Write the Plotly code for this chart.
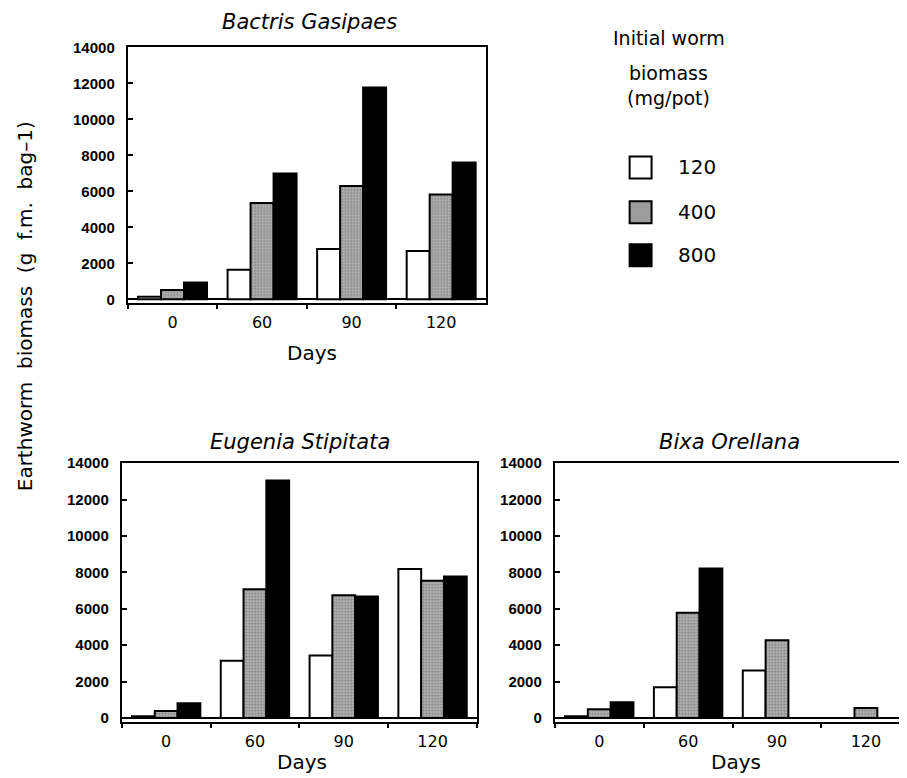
import plotly.graph_objects as go

# ---------------- data ----------------
days = ["0", "60", "90", "120"]
doses = ["120", "400", "800"]

bactris_120 = [150, 1650, 2800, 2680]
bactris_400 = [520, 5350, 6300, 5830]
bactris_800 = [930, 7000, 11780, 7600]

eugenia_120 = [100, 3140, 3430, 8180]
eugenia_400 = [390, 7080, 6750, 7540]
eugenia_800 = [810, 13050, 6680, 7780]

bixa_120 = [100, 1690, 2610, 0]
bixa_400 = [480, 5780, 4270, 550]
bixa_800 = [870, 8210, 0, 0]

panel_titles = ["Bactris Gasipaes", "Eugenia Stipitata", "Bixa Orellana"]
y_ticks = [0, 2000, 4000, 6000, 8000, 10000, 12000, 14000]
legend_lines = ["Initial worm", "biomass", "(mg/pot)"]
y_title = "Earthworm  biomass  (g  f.m.  bag\u20131)"
x_title = "Days"

# ---------------- layout helpers ----------------
W, H = 907, 778
OX = 8
OY, SY = 16.5, 0.984  # empirical page offset / scale in the viewer
def px(x):
    return (x - OX) / W
def py(y):
    return 1 - ((y - OY) / SY) / H

TITLE_FONT = dict(family="DejaVu Sans", size=21, color="black", style="italic")
XTICK_FONT = dict(family="DejaVu Sans", size=16, color="black")
YTICK_FONT = dict(family="Liberation Sans", size=15, color="black", weight="bold")
LABEL_FONT = dict(family="DejaVu Sans", size=20, color="black")

styles = [
    dict(color="white", line=dict(color="black", width=2)),
    dict(color="#a6a6a6", line=dict(color="black", width=2),
         pattern=dict(shape=".", fgcolor="#4a4a4a", bgcolor="#b4b4b4", size=3, solidity=0.4)),
    dict(color="black", line=dict(color="black", width=2)),
]

panels = [
    (bactris_120, bactris_400, bactris_800),
    (eugenia_120, eugenia_400, eugenia_800),
    (bixa_120, bixa_400, bixa_800),
]

fig = go.Figure()
for i, series in enumerate(panels):
    ax = "" if i == 0 else str(i + 1)
    for j, vals in enumerate(series):
        fig.add_trace(go.Bar(
            x=days, y=vals, name=doses[j], marker=styles[j],
            xaxis="x" + ax, yaxis="y" + ax, showlegend=False,
        ))

# panel domains (reference pixels)
doms = [
    dict(x=(128, 487), y=(47, 303), xr=[-0.5, 3.5]),
    dict(x=(122, 478), y=(463, 722), xr=[-0.5, 3.5]),
    dict(x=(556, 915), y=(463, 722), xr=[-0.5, 3.53]),
]

layout = dict(
    width=W, height=H,
    margin=dict(l=0, r=0, t=0, b=0),
    paper_bgcolor="white", plot_bgcolor="white",
    barmode="group", bargap=0.23, bargroupgap=0,
    showlegend=False,
)

for i, d in enumerate(doms):
    ax = "" if i == 0 else str(i + 1)
    layout["xaxis" + ax] = dict(
        domain=[px(d["x"][0]), min(1.0, px(d["x"][1]))],
        anchor="y" + ax, type="category", range=d["xr"],
        showline=True, linecolor="black", linewidth=2, mirror=True,
        ticks="outside", ticklen=4, tickwidth=2, tickcolor="black",
        tickson="boundaries", showgrid=False, zeroline=False,
        tickfont=XTICK_FONT, ticklabelstandoff=4, fixedrange=True,
    )
    layout["yaxis" + ax] = dict(
        domain=[py(d["y"][1]), py(d["y"][0])],
        anchor="x" + ax, range=[-220, 14000],
        tickvals=y_ticks, ticktext=[str(v) for v in y_ticks],
        showline=True, linecolor="black", linewidth=2, mirror=True,
        ticks="inside", ticklen=5, tickwidth=2, tickcolor="black",
        showgrid=False, zeroline=True, zerolinecolor="black", zerolinewidth=1.5,
        tickfont=YTICK_FONT, ticklabelstandoff=8, fixedrange=True,
    )

fig.update_layout(**layout)

annotations = []
# panel titles
for (t, (cx, cy)) in zip(panel_titles, [(310, 22), (301, 442), (731, 442)]):
    annotations.append(dict(text=t, x=px(cx), y=py(cy), xref="paper", yref="paper",
                            showarrow=False, font=TITLE_FONT, xanchor="center", yanchor="middle"))
# x titles
for (cx, cy) in [(313, 353), (303, 762), (738, 762)]:
    annotations.append(dict(text=x_title, x=px(cx), y=py(cy), xref="paper", yref="paper",
                            showarrow=False, font=LABEL_FONT, xanchor="center", yanchor="middle"))
# y title
annotations.append(dict(text=y_title, x=px(25), y=py(306), xref="paper", yref="paper",
                        showarrow=False, textangle=-90,
                        font=dict(family="DejaVu Sans", size=20, color="black"),
                        xanchor="center", yanchor="middle"))
# legend title lines
for line, cy in zip(legend_lines, [38, 73, 98]):
    annotations.append(dict(text=line, x=px(670), y=py(cy), xref="paper", yref="paper",
                            showarrow=False, font=dict(family="DejaVu Sans", size=19, color="black"),
                            xanchor="center", yanchor="middle"))

# legend items
shapes = []
legend_fill = ["white", "#9c9c9c", "black"]
for j, (dose, cy) in enumerate(zip(doses, [167, 212, 255])):
    shapes.append(dict(type="rect", xref="paper", yref="paper",
                       x0=px(631), x1=px(653), y0=py(cy + 11), y1=py(cy - 11),
                       fillcolor=legend_fill[j], line=dict(color="black", width=2)))
    annotations.append(dict(text=dose, x=px(677), y=py(cy), xref="paper", yref="paper",
                            showarrow=False, font=LABEL_FONT, xanchor="left", yanchor="middle"))

fig.update_layout(annotations=annotations, shapes=shapes)
fig.write_html("out.html")
